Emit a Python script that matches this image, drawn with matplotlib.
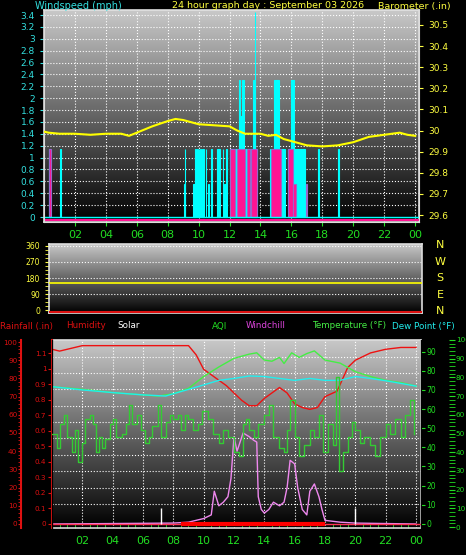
import numpy as np
import matplotlib
matplotlib.use("Agg")
import matplotlib.pyplot as plt
from matplotlib.colors import LinearSegmentedColormap

W, H = 466, 555

# ---- top panel data ----
# gust segments: (start hour, end hour, mph)
gust_segs = [(0.30, 0.40, 1.15), (1.05, 1.12, 1.15), (9.05, 9.10, 0.55), (9.10, 9.15, 1.15),
             (9.65, 9.75, 0.55), (9.75, 9.80, 1.15), (9.90, 9.95, 1.15), (10.00, 10.05, 1.15),
             (10.10, 10.15, 1.15), (10.20, 10.25, 1.15), (10.30, 10.35, 1.15), (10.45, 10.50, 1.15),
             (10.60, 10.65, 0.55), (10.80, 10.85, 1.15), (11.20, 11.40, 1.15), (11.55, 11.60, 1.15),
             (11.65, 11.75, 0.55), (11.80, 11.85, 1.15), (12.00, 12.60, 1.15), (12.60, 12.70, 2.30),
             (12.70, 12.80, 1.70), (12.80, 12.95, 2.30), (12.95, 13.50, 1.15), (13.50, 13.65, 2.30),
             (13.62, 13.66, 3.45), (13.65, 13.80, 1.15), (14.60, 15.50, 1.15), (14.85, 15.20, 2.30),
             (15.50, 15.60, 1.15), (15.75, 16.00, 1.15), (16.00, 16.15, 2.30), (16.15, 16.85, 1.15),
             (17.75, 17.80, 1.15), (19.00, 19.05, 1.15)]
speed_segs = [(0.35, 0.45, 1.15), (12.05, 12.35, 1.15), (12.50, 13.00, 1.15), (13.10, 13.35, 1.15),
              (13.40, 13.75, 1.15), (14.65, 15.30, 1.15), (15.80, 16.10, 1.15), (16.10, 16.30, 0.55),
              (16.95, 17.00, 0.55)]
baro_hours = [0, 0.3, 1, 2, 3, 4, 5, 5.5, 6, 7, 8, 8.5, 9, 10, 11, 12, 12.5, 13, 14, 14.5, 15,
              15.5, 16, 16.5, 17, 18, 19, 20, 21, 22, 23, 23.5, 24]
baro_vals = [29.995, 29.99, 29.985, 29.985, 29.98, 29.985, 29.985, 29.975, 29.99, 30.02, 30.045,
             30.055, 30.05, 30.03, 30.025, 30.02, 30.0, 29.985, 29.985, 29.975, 29.98, 29.96,
             29.95, 29.94, 29.93, 29.925, 29.93, 29.945, 29.97, 29.98, 29.99, 29.98, 29.975]

# ---- middle panel ----
wind_dir = 150

# ---- bottom panel data ----
hum_hours = [0, 0.5, 1, 2, 3, 4, 5, 6, 7, 8, 9, 9.5, 10, 11, 11.5, 12, 12.5, 13, 13.5, 14, 14.5,
             15, 15.5, 16, 16.5, 17, 17.5, 18, 18.8, 19.5, 20, 21, 22, 23, 24]
hum_vals = [96, 95, 96, 98, 98, 98, 98, 98, 98, 98, 98, 93, 85, 79, 76, 72, 68, 65, 65, 69, 72,
            75, 72, 66, 64, 63, 64, 70, 73, 86, 90, 94, 96, 97, 97]
temp_hours = [0, 2, 4, 6, 7, 8, 9, 10, 11, 12, 13, 13.5, 14, 14.5, 15, 15.3, 15.8, 16.3, 16.8,
              17.3, 18, 19, 20, 21, 22, 23, 24]
temp_vals = [71.7, 70.3, 68.6, 67.4, 66.8, 68, 70.8, 77, 82, 86.5, 88.7, 89.4, 85.6, 85, 87,
             83.8, 89.4, 87, 89, 90.4, 85.6, 84, 79.5, 77, 75, 73.8, 72]
dew_hours = [0, 2, 4, 6, 7.5, 9, 10, 11, 12, 13, 14, 15, 16, 17, 18, 19, 20, 21, 22, 23, 24]
dew_vals = [71.7, 70, 68.6, 67.4, 66.8, 70.3, 72.6, 75, 76, 77.3, 77, 76, 75, 76, 75, 75, 77,
            76, 74.8, 73.4, 72]
aqi_hours = [0, 0.3, 0.5, 0.8, 1, 1.3, 1.5, 1.7, 2, 2.2, 2.5, 2.7, 2.9, 3.1, 3.3, 3.5, 3.8, 4,
             4.2, 4.6, 4.9, 5.1, 5.3, 5.6, 5.9, 6.1, 6.4, 6.6, 7, 7.2, 7.5, 7.8, 8, 8.3, 8.5, 8.8,
             9, 9.3, 9.6, 9.9, 10.3, 10.6, 11, 11.3, 11.6, 12, 12.3, 12.6, 12.8, 13, 13.3, 13.6,
             14, 14.3, 14.6, 15, 15.3, 15.5, 15.7, 16, 16.3, 16.6, 17, 17.3, 17.6, 17.9, 18.2,
             18.5, 18.7, 18.9, 19.2, 19.5, 19.8, 20, 20.3, 20.6, 21, 21.3, 21.6, 22, 22.3, 22.6,
             23, 23.3, 23.6, 23.9]
aqi_vals = [50, 42, 55, 60, 48, 40, 52, 35, 45, 58, 60, 55, 40, 48, 42, 47, 55, 58, 48, 50, 55,
            65, 55, 60, 52, 45, 48, 54, 65, 48, 56, 60, 58, 60, 52, 60, 58, 52, 55, 62, 58, 50,
            45, 52, 48, 40, 38, 55, 58, 52, 48, 55, 60, 65, 48, 42, 40, 52, 68, 48, 38, 44, 52,
            48, 60, 40, 55, 44, 80, 30, 40, 48, 56, 52, 45, 48, 44, 38, 48, 55, 50, 58, 48, 60,
            68, 50]
chill_hours = [0, 8, 9, 10, 10.5, 10.7, 11, 11.3, 11.6, 11.8, 12, 12.2, 12.4, 12.6, 13, 13.3,
               13.5, 13.6, 13.8, 14, 14.3, 14.6, 15, 15.3, 15.5, 15.7, 16, 16.2, 16.5, 16.8, 17,
               17.3, 17.6, 17.8, 18, 19, 20, 24]
chill_vals = [0, 0.5, 1, 3, 5, 18, 10, 12, 15, 25, 48, 40, 45, 50, 48, 46, 45, 15, 8, 6, 8, 12,
              10, 12, 20, 35, 33, 20, 8, 5, 18, 22, 15, 8, 2, 1, 0.5, 0]
rain_start, rain_end = 8.5, 18.0
solar_marks = [7.2, 20.0]
x_ticks = [2, 4, 6, 8, 10, 12, 14, 16, 18, 20, 22, 24]
x_labels = ["02", "04", "06", "08", "10", "12", "14", "16", "18", "20", "22", "00"]

CYAN, YEL, GRN, RED = "#33e0e0", "#ffff40", "#22dd22", "#dd1111"
plt.rcParams['font.family'] = ['DejaVu Sans']
grad = LinearSegmentedColormap.from_list("g", ["#000000", "#c8c8c8"])


def box(l, t, r, b):
    return [l / W, 1 - b / H, (r - l) / W, (b - t) / H]


def shade(ax):
    ax.imshow(np.linspace(0, 1, 256).reshape(-1, 1)[::-1], aspect="auto", cmap=grad,
              extent=[0, 1, 0, 1], transform=ax.transAxes, zorder=0)
    ax.set_facecolor("black")
    for s in ax.spines.values():
        s.set_color("#dddddd")
        s.set_linewidth(1.2)


fig = plt.figure(figsize=(W / 100, H / 100), dpi=100, facecolor="black")

# ---------- top panel ----------
ax = fig.add_axes(box(44, 10, 419, 222))
shade(ax)
ax.set_xlim(0, 24.25)
ax.set_ylim(-0.084, 3.485)
for h in x_ticks:
    ax.axvline(h, color="white", ls=":", lw=0.8, zorder=1)
for v in np.arange(0.2, 3.45, 0.2):
    ax.axhline(v, color="white", ls=":", lw=0.8, zorder=1)
ax.bar([s for s, e, v in gust_segs], [v for s, e, v in gust_segs],
       width=[e - s for s, e, v in gust_segs], align="edge", color="#00ffff",
       edgecolor="#00ffff", lw=0.8, zorder=2)
ax.bar([s for s, e, v in speed_segs], [v for s, e, v in speed_segs],
       width=[e - s for s, e, v in speed_segs], align="edge", color="#ff1493",
       edgecolor="#9966cc", lw=0.8, zorder=3)
ax.axhline(0, color="#00ffff", lw=1, zorder=3)
ax.axhline(-0.05, color="#ff1493", lw=1.5, zorder=3)
ax.set_yticks(np.round(np.arange(0, 3.45, 0.2), 1))
ax.set_yticklabels([f"{v:g}" for v in np.round(np.arange(0, 3.45, 0.2), 1)])
ax.tick_params(axis="y", colors=CYAN, labelsize=6.5, length=3)
ax.set_xticks(x_ticks)
ax.set_xticklabels(x_labels)
ax.tick_params(axis="x", colors=GRN, labelsize=8, length=3, pad=3)
ax2 = ax.twinx()
ax2.set_ylim(29.567, 30.571)
ax2.plot(baro_hours, baro_vals, color="yellow", lw=1.5, zorder=4)
ax2.set_yticks([29.6, 29.7, 29.8, 29.9, 30.0, 30.1, 30.2, 30.3, 30.4, 30.5])
ax2.set_yticklabels(["29.6", "29.7", "29.8", "29.9", "30", "30.1", "30.2", "30.3", "30.4", "30.5"])
ax2.tick_params(axis="y", colors=YEL, labelsize=6.5, length=3)
for s in ax2.spines.values():
    s.set_color("#dddddd")
fig.text(35 / W, 1 - 6 / H, "Windspeed (mph)", color=CYAN, fontsize=7, va="center")
fig.text(172 / W, 1 - 6 / H, "24 hour graph day : September 03 2026", color=YEL, fontsize=6.8, va="center")
fig.text(378 / W, 1 - 6 / H, "Barometer (.in)", color=YEL, fontsize=6.8, va="center")

# ---------- middle panel ----------
am = fig.add_axes(box(49, 244, 422, 313))
shade(am)
am.set_xlim(0, 24)
am.set_ylim(-15, 370)
for v in [90, 180, 270, 360]:
    am.axhline(v, color="white", ls=":", lw=0.8, zorder=1)
am.axhline(wind_dir, color="yellow", lw=1.2, zorder=3)
am.axhline(-8, color=RED, lw=1.5, zorder=3)
am.set_yticks([0, 90, 180, 270, 360])
am.set_yticks(np.arange(0, 361, 22.5), minor=True)
am.tick_params(axis="y", which="both", colors=YEL, labelsize=5.5, length=3)
am.set_xticks([])
for i, c in enumerate(["N", "W", "S", "E", "N"]):
    fig.text(440 / W, 1 - (245 + i * 16.5) / H, c, color=YEL, fontsize=8, ha="center", va="center")

# ---------- bottom panel ----------
ab = fig.add_axes(box(52, 340, 421, 528))
shade(ab)
ab.set_xlim(0, 24.33)
ab.set_ylim(-2.2, 101.1)
for h in x_ticks:
    ab.axvline(h, color="white", ls=":", lw=0.8, zorder=1)
for v in range(10, 101, 10):
    ab.axhline(v * 0.9 + 2, color="white", ls=":", lw=0.8, zorder=1)
ab.plot(hum_hours, hum_vals, color="#ee1111", lw=1, zorder=4)
ab.plot(chill_hours, chill_vals, color="#ee88ee", lw=1, zorder=4)
ab.hlines(0, rain_start, rain_end, color="#ff0000", lw=3, zorder=5)
ab.axhline(0, color="#ff3355", lw=1, zorder=4)
ab.vlines(solar_marks, 0, 9, color="white", lw=1, zorder=4)
ab.set_xticks(x_ticks)
ab.set_xticklabels(x_labels)
ab.set_xticks(np.arange(0, 24.1, 0.5), minor=True)
ab.tick_params(axis="x", which="both", colors=GRN, labelsize=8, length=3, direction="in")
ab.tick_params(axis="x", which="major", length=0, pad=6)
ab.set_yticks([])

hum_ax = ab.twinx()
hum_ax.set_ylim(-2.2, 101.1)
hum_ax.yaxis.set_ticks_position("left")
hum_ax.spines["left"].set_position(("outward", 22))
hum_ax.spines["left"].set_color(RED)
hum_ax.spines["left"].set_linewidth(1.5)
hum_ax.set_yticks(range(0, 101, 10))
hum_ax.set_yticks(range(0, 101, 2), minor=True)
hum_ax.tick_params(axis="y", which="both", colors=RED, labelsize=5.2, length=2, pad=1)

rain_ax = ab.twinx()
rain_ax.set_ylim(-0.026, 1.186)
rain_ax.yaxis.set_ticks_position("left")
rain_ax.spines["left"].set_color(RED)
rain_ax.spines["left"].set_linewidth(1.5)
rain_ax.set_yticks(np.round(np.arange(0, 1.15, 0.1), 1))
rain_ax.set_yticklabels([f"{v:g}" for v in np.round(np.arange(0, 1.15, 0.1), 1)])
rain_ax.tick_params(axis="y", colors=RED, labelsize=5.2, length=3, pad=1)

temp_ax = ab.twinx()
temp_ax.set_ylim(-2.2, 96.1)
temp_ax.plot(temp_hours, temp_vals, color="#44ee44", lw=1, zorder=4)
temp_ax.plot(dew_hours, dew_vals, color="#22eeee", lw=1, zorder=4)
temp_ax.set_yticks(range(0, 91, 10))
temp_ax.tick_params(axis="y", colors=GRN, labelsize=5.5, length=3, pad=1)

aqi_ax = ab.twinx()
aqi_ax.set_ylim(-0.5, 99.5)
aqi_ax.step(aqi_hours, aqi_vals, where="post", color="#33cc33", lw=1, zorder=3)
aqi_ax.spines["right"].set_position(("outward", 20))
aqi_ax.spines["right"].set_visible(False)
aqi_ax.set_yticks(range(0, 101, 10))
aqi_ax.set_yticks(range(0, 101, 2), minor=True)
aqi_ax.tick_params(axis="y", which="both", colors=GRN, labelsize=5.2, length=4, pad=1)
for a in (hum_ax, rain_ax, temp_ax, aqi_ax):
    a.spines["top"].set_visible(False)
    a.spines["bottom"].set_visible(False)

yl = 1 - 326 / H
for x, txt, c in [(0, "Rainfall (.in)", RED), (66, "Humidity", RED), (117, "Solar", "white"),
                  (212, "AQI", GRN), (246, "Windchill", "#dd44dd"),
                  (312, "Temperature (°F)", "#44ee44"), (392, "Dew Point (°F)", "#22eeee")]:
    fig.text(x / W, yl, txt, color=c, fontsize=6.3, va="center")

fig.savefig("out.png", dpi=100, facecolor="black")
